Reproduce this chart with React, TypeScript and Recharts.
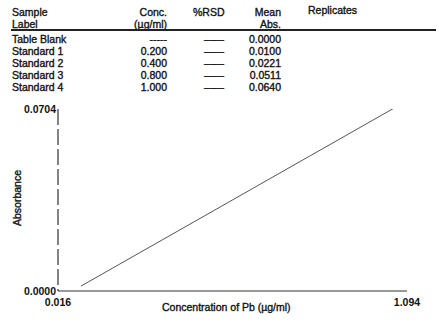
import React from 'react';
import { LineChart, Line, XAxis, YAxis } from 'recharts';

// table values
const sampleLabels = ['Table Blank', 'Standard 1', 'Standard 2', 'Standard 3', 'Standard 4'];
const concLabels = ['-----', '0.200', '0.400', '0.800', '1.000'];
const rsdLabels = ['——', '——', '——', '——', '——'];
const meanAbs = [0.0, 0.01, 0.0221, 0.0511, 0.064];

// calibration line, endpoints
const fitConc = [0.087, 1.066];
const fitAbs = [0.0019, 0.0716];

const xTicks = [0.016, 1.094];
const yTicks = [0, 0.0704];

const lineData = fitConc.map((c, i) => ({ conc: c, abs: fitAbs[i] }));

const font = '"Liberation Sans", Arial, sans-serif';
const ink = '#111';
const stroke = '0.35px #111';

const txt = (left: number, top: number, s: string, extra: React.CSSProperties = {}) => (
  <div
    style={{
      position: 'absolute',
      left,
      top,
      fontSize: 10.5,
      lineHeight: '12px',
      color: ink,
      whiteSpace: 'nowrap',
      WebkitTextStroke: stroke,
      ...extra,
    }}
  >
    {s}
  </div>
);

export default function App() {
  const rowTop = 33;
  const rowH = 12.1;
  return (
    <div
      style={{
        position: 'absolute',
        left: 0,
        top: 0,
        width: 439,
        height: 327,
        background: '#fff',
        fontFamily: font,
        overflow: 'hidden',
      }}
    >
      {/* header */}
      {txt(12, 6, 'Sample')}
      {txt(12, 18, 'Label')}
      <div style={{ position: 'absolute', left: 100, top: 6, width: 67, textAlign: 'right' }}>
        {txt(0, 0, 'Conc.', { position: 'static' })}
        {txt(0, 0, '(µg/ml)', { position: 'static' })}
      </div>
      {txt(193, 6, '%RSD')}
      <div style={{ position: 'absolute', left: 220, top: 6, width: 61, textAlign: 'right' }}>
        {txt(0, 0, 'Mean', { position: 'static' })}
        {txt(0, 0, 'Abs.', { position: 'static' })}
      </div>
      {txt(308, 4, 'Replicates')}
      <div style={{ position: 'absolute', left: 11, top: 29, width: 425, height: 2, background: '#222' }} />

      {/* rows */}
      {sampleLabels.map((s, i) => (
        <React.Fragment key={s}>
          {txt(12, rowTop + i * rowH, s)}
          <div style={{ position: 'absolute', left: 100, top: rowTop + i * rowH, width: 67, textAlign: 'right' }}>
            {txt(0, 0, concLabels[i], { position: 'static' })}
          </div>
          {txt(204, rowTop + i * rowH, rsdLabels[i], { letterSpacing: -1 })}
          <div style={{ position: 'absolute', left: 220, top: rowTop + i * rowH, width: 61, textAlign: 'right' }}>
            {txt(0, 0, meanAbs[i].toFixed(4), { position: 'static' })}
          </div>
        </React.Fragment>
      ))}

      {/* chart */}
      <div style={{ position: 'absolute', left: 0, top: 0 }}>
        <LineChart
          width={439}
          height={327}
          data={lineData}
          margin={{ top: 109, right: 32, bottom: 6, left: 8 }}
        >
          <XAxis
            dataKey="conc"
            type="number"
            domain={[xTicks[0], xTicks[1]]}
            ticks={xTicks}
            tickFormatter={(v: number) => v.toFixed(3)}
            height={30}
            tickSize={0}
            tickMargin={8}
            axisLine={{ stroke: '#333', strokeWidth: 1.2 }}
            tick={{ fill: ink, fontSize: 10.5, fontFamily: font, fontWeight: 'bold' }}
          />
          <YAxis
            dataKey="abs"
            type="number"
            domain={[yTicks[0], yTicks[1]]}
            ticks={yTicks}
            allowDataOverflow
            tickFormatter={(v: number) => v.toFixed(4)}
            width={50}
            tickSize={0}
            tickMargin={2}
            axisLine={{ stroke: '#333', strokeWidth: 1.2, strokeDasharray: '16 4' }}
            tick={{ fill: ink, fontSize: 10.5, fontFamily: font, fontWeight: 'bold' }}
          />
          <Line
            dataKey="abs"
            stroke="#555"
            strokeWidth={1}
            dot={false}
            isAnimationActive={false}
          />
        </LineChart>
      </div>

      {/* axis titles */}
      {txt(162, 301, 'Concentration of Pb (µg/ml)')}
      <div
        style={{
          position: 'absolute',
          left: 17,
          top: 198,
          transform: 'translate(-50%, -50%) rotate(-90deg)',
          fontSize: 10.5,
          color: ink,
          whiteSpace: 'nowrap',
          WebkitTextStroke: stroke,
        }}
      >
        Absorbance
      </div>
    </div>
  );
}
